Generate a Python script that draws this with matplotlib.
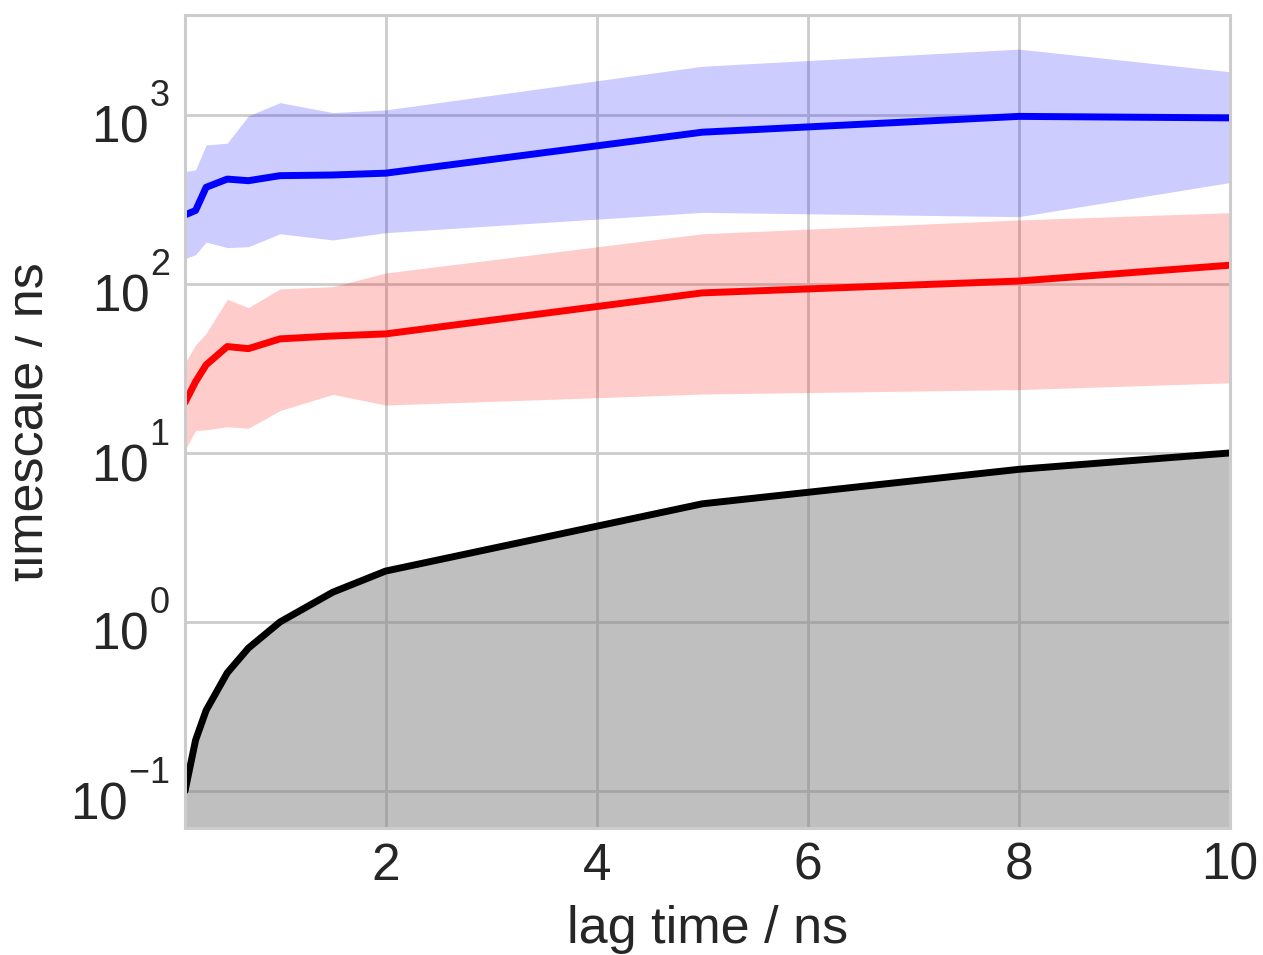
import matplotlib
matplotlib.use("Agg")
import matplotlib.pyplot as plt
import seaborn as sns
from matplotlib.transforms import Bbox, TransformedBbox

# raise superscripts higher (as in the reference tick labels)
try:
    import matplotlib._mathtext as _mt
    _mt.FontConstantsBase.sup1 = 1.32
    _mt.FontConstantsBase.subdrop = 0.0
    _mt.FontConstantsBase.delta = 0.085
except Exception:
    pass

# lag times (ns)
lags = [0.1, 0.2, 0.3, 0.5, 0.7, 1.0, 1.5, 2.0, 5.0, 8.0, 10.0]

# slowest implied timescale (blue) with confidence band
its1 = [256, 272, 373, 417, 408, 437, 441, 452, 790, 980, 960]
its1_lo = [141, 149, 177, 164, 166, 198, 182, 201, 265, 250, 398]
its1_hi = [462, 473, 664, 680, 986, 1182, 1032, 1070, 1940, 2450, 1800]

# second implied timescale (red) with confidence band
its2 = [19.9, 26.4, 33.2, 42.6, 41.4, 47.3, 49.2, 50.6, 88.5, 104, 129]
its2_lo = [10.4, 13.6, 13.7, 14.3, 14.0, 17.8, 22.2, 19.2, 22.3, 23.7, 26.0]
its2_hi = [34, 43.6, 51, 81, 72.4, 93.4, 96.4, 116, 198, 239, 264]

sns.set_style("whitegrid")
plt.rcParams['font.family'] = ['Liberation Sans', 'DejaVu Sans']

fig = plt.figure(figsize=(12.63, 9.55), dpi=100)
ax = fig.add_axes([0.1465, 0.1330, 0.8274, 0.8513])

ax.fill_between(lags, its1_lo, its1_hi, color='blue', alpha=0.2, linewidth=0)
ax.plot(lags, its1, color='blue', linewidth=5)
ax.fill_between(lags, its2_lo, its2_hi, color='red', alpha=0.2, linewidth=0)
ax.plot(lags, its2, color='red', linewidth=5)
ax.fill_between(lags, 0.01, lags, color='0.5', alpha=0.5, linewidth=0)
ax.plot(lags, lags, color='black', linewidth=5)

ax.set_yscale('log')
ax.set_xlim(0.1, 10)
ax.set_ylim(0.0604, 3900)
ax.set_xticks([2, 4, 6, 8, 10])

ax.grid(True, color='#cccccc', linewidth=2)
ax.set_axisbelow(True)
for s in ax.spines.values():
    s.set_color('#cccccc')
    s.set_linewidth(2.2)
    s.set_zorder(5)

ax.tick_params(axis='both', which='major', labelsize=37, length=0, colors='#262626')
ax.tick_params(axis='x', pad=10)
ax.tick_params(axis='y', pad=10.5)
ax.tick_params(axis='y', which='minor', length=0)

ax.set_xlabel('lag time / ns', fontsize=37.5, color='#262626')
ylab = ax.set_ylabel('timescale / ns', fontsize=37.5, color='#262626')
ax.yaxis.set_label_coords(-0.1256, 0.5)
ax.xaxis.set_label_coords(0.5, -0.0947)

# the reference clips the top of the rotated y label near the left edge
ylab.set_clip_box(TransformedBbox(Bbox([[15 / 1263, 0], [1, 1]]), fig.transFigure))
ylab.set_clip_on(True)

fig.savefig('out.png', dpi=100)
